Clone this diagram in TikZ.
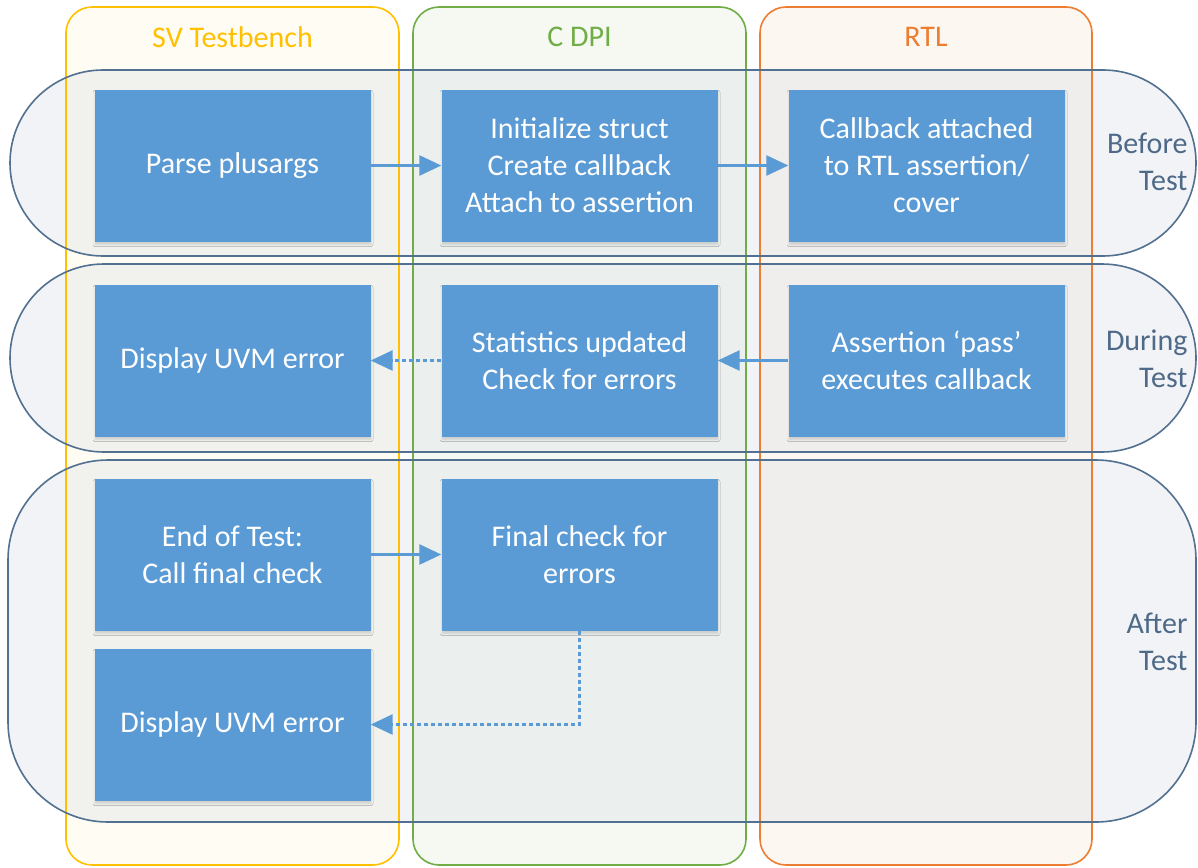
\documentclass[tikz,border=0pt]{standalone}
\usepackage{fontspec}
\setmainfont{Carlito}
\usetikzlibrary{arrows.meta,shadows.blur}
\definecolor{boxblue}{HTML}{5B9BD5}
\definecolor{svy}{HTML}{FFC000}
\definecolor{svyfill}{HTML}{FFFCF3}
\definecolor{dpig}{HTML}{70AD47}
\definecolor{dpigfill}{HTML}{F5F9F2}
\definecolor{rtlo}{HTML}{ED7D31}
\definecolor{rtlofill}{HTML}{FDF7F2}
\definecolor{rowline}{HTML}{52708F}
\definecolor{rowfillc}{HTML}{D9DEE6}
\definecolor{phasetext}{HTML}{4E6A88}
\tikzset{
  colframe/.style={line width=1.6pt, rounded corners=26pt},
  rowframe/.style={line width=1.6pt, draw=rowline},
  rowback/.style={fill=rowfillc, fill opacity=0.35},
  stepbox/.style={fill=boxblue, draw=none, minimum width=276pt, minimum height=152pt,
    inner sep=0pt, align=center, text=white, font=\fontsize{30}{37}\selectfont,
    blur shadow={shadow xshift=0.5pt, shadow yshift=-3pt, shadow opacity=14, shadow blur steps=5, shadow blur radius=2pt}},
  header/.style={font=\fontsize{30}{37}\selectfont},
  phase/.style={anchor=east, align=right, text=phasetext, font=\fontsize{30}{37}\selectfont},
  arr/.style={draw=boxblue, line width=2.8pt, -{Triangle[length=22pt,width=20pt]}},
  dotline/.style={dash pattern=on 4pt off 3pt}
}
\begin{document}
\begin{tikzpicture}[x=1pt,y=-1pt]
\useasboundingbox[fill=white] (0,0) rectangle (1198,867);
% column fills
\path[colframe, fill=svyfill] (66,7) rectangle (399,865);
\path[colframe, fill=dpigfill] (413,7) rectangle (746,865);
\path[colframe, fill=rtlofill] (760,7) rectangle (1092,865);
% row fills
\path[rowback, rounded corners=93pt] (10,70) rectangle (1196,256);
\path[rowback, rounded corners=94pt] (10,264) rectangle (1196,452);
\path[rowback, rounded corners=100pt] (8,460) rectangle (1196,822);
% column borders
\draw[colframe, draw=svy] (66,7) rectangle (399,865);
\draw[colframe, draw=dpig] (413,7) rectangle (746,865);
\draw[colframe, draw=rtlo] (760,7) rectangle (1092,865);
% row borders
\draw[rowframe, rounded corners=93pt] (10,70) rectangle (1196,256);
\draw[rowframe, rounded corners=94pt] (10,264) rectangle (1196,452);
\draw[rowframe, rounded corners=100pt] (8,460) rectangle (1196,822);
% headers
\node[header, text=svy] (hsv) at (232.5,37) {SV Testbench};
\node[header, text=dpig] (hdpi) at (579.5,37) {C DPI};
\node[header, text=rtlo] (hrtl) at (926,37) {RTL};
% phase labels
\node[phase] (before) at (1191,161.5) {Before\\Test};
\node[phase] (during) at (1191,358.5) {During\\Test};
\node[phase] (after) at (1191,641.5) {After\\Test};
% boxes
\node[stepbox] (P) at (232.5,165.5) {Parse plusargs};
\node[stepbox] (I) at (579.5,165.5) {Initialize struct\\Create callback\\Attach to assertion};
\node[stepbox] (C) at (926.5,165.5) {Callback attached\\to RTL assertion/\\cover};
\node[stepbox] (D1) at (232.5,360.5) {Display UVM error};
\node[stepbox] (S) at (579.5,360.5) {Statistics updated\\Check for errors};
\node[stepbox] (A) at (926.5,360.5) {Assertion ‘pass’\\executes callback};
\node[stepbox] (E) at (232.5,554.5) {End of Test:\\Call final check};
\node[stepbox] (F) at (579.5,554.5) {Final check for\\errors};
\node[stepbox] (D2) at (232.5,724.5) {Display UVM error};
% connectors
\draw[arr] (P.east) -- (I.west);
\draw[arr] (I.east) -- (C.west);
\draw[arr] (A.west) -- (S.east);
\draw[arr, dotline] (S.west) -- (D1.east);
\draw[arr] (E.east) -- (F.west);
\draw[arr, dotline] (F.south) |- (D2.east);
\end{tikzpicture}
\end{document}
